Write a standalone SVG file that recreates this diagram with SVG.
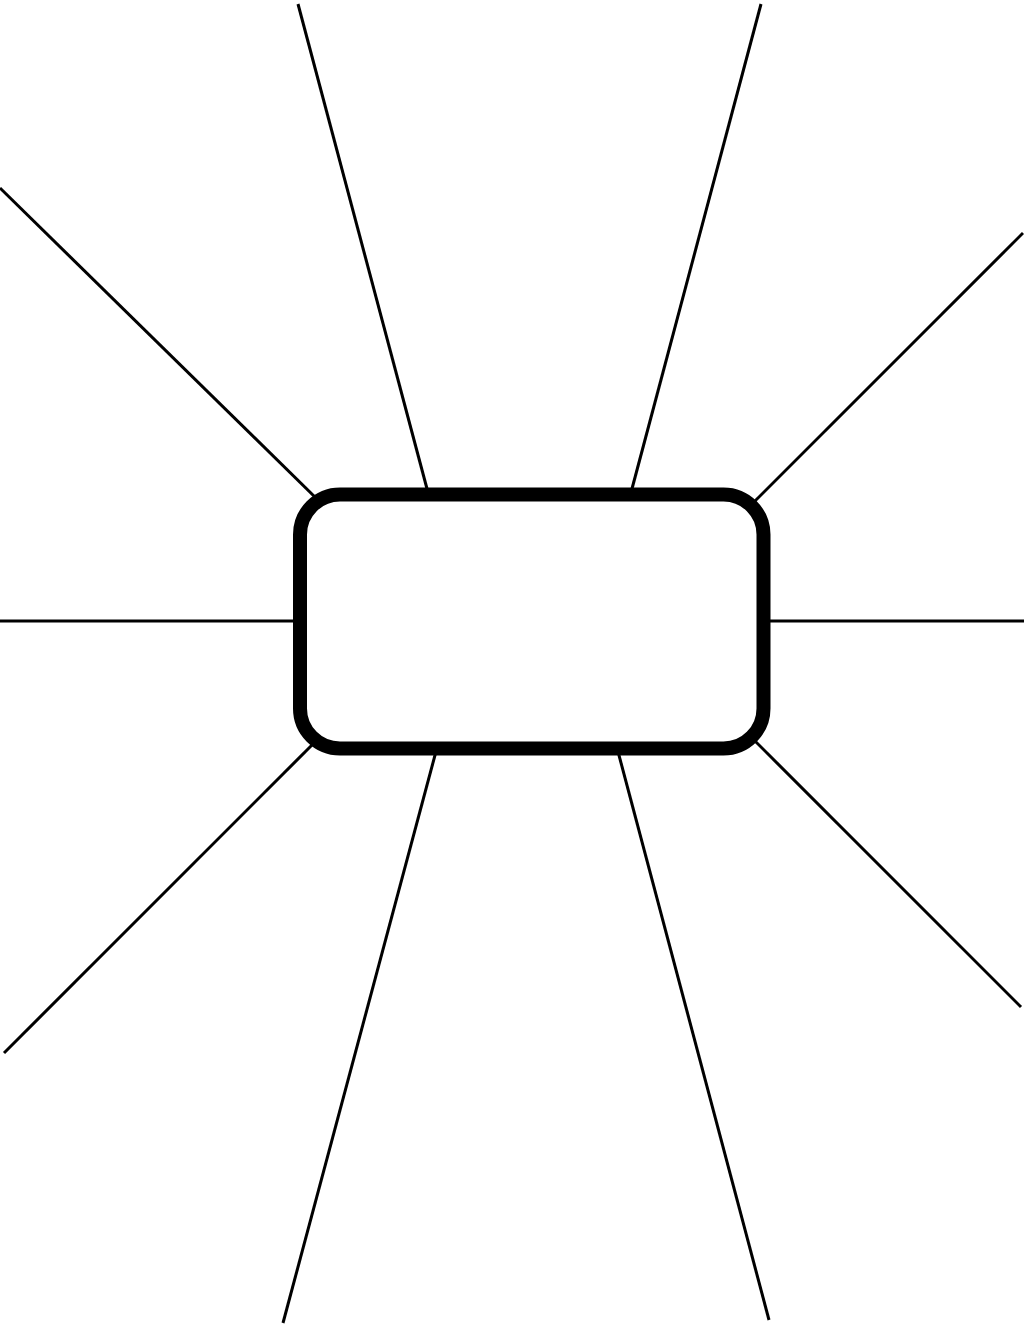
<svg xmlns="http://www.w3.org/2000/svg" width="1024" height="1325" viewBox="0 0 1024 1325">
<style>
.c{stroke:#000;stroke-width:3;fill:none;stroke-linecap:butt}
.n{stroke:#000;stroke-width:14;fill:#fff}
</style>
<rect width="1024" height="1325" fill="#fff"/>
<g id="connectors">
<line class="c" x1="298" y1="4" x2="430" y2="500"/>
<line class="c" x1="761" y1="4" x2="629" y2="500"/>
<line class="c" x1="0" y1="188" x2="318" y2="500"/>
<line class="c" x1="1023" y1="233" x2="752" y2="504"/>
<line class="c" x1="0" y1="621" x2="305" y2="621"/>
<line class="c" x1="760" y1="621" x2="1024" y2="621"/>
<line class="c" x1="4" y1="1053" x2="318" y2="739"/>
<line class="c" x1="283" y1="1323" x2="438" y2="744"/>
<line class="c" x1="769" y1="1320" x2="616" y2="744"/>
<line class="c" x1="1021" y1="1007" x2="750" y2="736"/>
</g>
<g id="center-node">
<rect class="n" x="300" y="494.5" width="463.5" height="254" rx="40" ry="40"/>
</g>
</svg>
